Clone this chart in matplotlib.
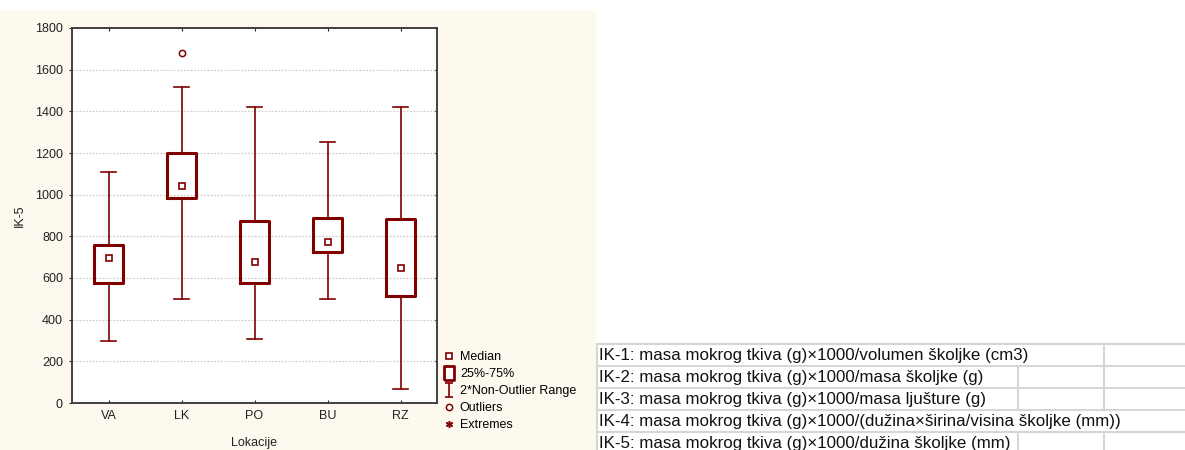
import matplotlib
matplotlib.use('Agg')
import matplotlib.pyplot as plt
from matplotlib.lines import Line2D
from matplotlib.path import Path
from matplotlib.patches import Rectangle

plt.rcParams['font.family'] = ['Liberation Sans', 'DejaVu Sans']

# podaci (ocitano sa slike)
locations = ['VA', 'LK', 'PO', 'BU', 'RZ']
medians = [696, 1042, 678, 774, 648]
q1 = [576, 984, 577, 723, 515]
q3 = [758, 1200, 875, 889, 883]
whis_lo = [298, 499, 306, 500, 67]
whis_hi = [1109, 1517, 1422, 1254, 1422]
outliers = [[], [1680], [], [], []]

table_rows = [
    'IK-1: masa mokrog tkiva (g)\u00d71000/volumen školjke (cm3)',
    'IK-2: masa mokrog tkiva (g)\u00d71000/masa školjke (g)',
    'IK-3: masa mokrog tkiva (g)\u00d71000/masa ljušture (g)',
    'IK-4: masa mokrog tkiva (g)\u00d71000/(dužina\u00d7širina/visina školjke (mm))',
    'IK-5: masa mokrog tkiva (g)\u00d71000/dužina školjke (mm)',
]

red = '#800000'
W, H = 1185, 450
fig = plt.figure(figsize=(W / 100, H / 100), dpi=100)
fig.patch.set_facecolor('white')

# pozadina + tablica u pikselima
bg = fig.add_axes([0, 0, 1, 1], zorder=-5)
bg.set_xlim(0, W)
bg.set_ylim(H, 0)
bg.axis('off')
bg.add_patch(Rectangle((0, 10), 596, 440, facecolor='#FDF9EE', edgecolor='none'))

row_h = 22
top = 344
grid_c = '#d6d6d6'
for i in range(len(table_rows) + 1):
    bg.plot([597, W], [top + i * row_h] * 2, color=grid_c, lw=1.5)
bg.plot([597, 597], [top, H], color=grid_c, lw=1.5)
cell_lines = [[1104], [1018, 1104], [1018, 1104], [], [1018, 1104]]
for i, txt in enumerate(table_rows):
    y0 = top + i * row_h
    bg.text(599, y0 + row_h / 2 + 0.5, txt, fontsize=12.2, va='center', ha='left', color='#111111')
    for xv in cell_lines[i]:
        bg.plot([xv, xv], [y0, y0 + row_h], color=grid_c, lw=1.5)

# grafikon
ax = fig.add_axes([72 / W, 1 - 403 / H, 365 / W, 375 / H])
ax.set_facecolor('white')
stats = []
for i in range(len(locations)):
    stats.append(dict(med=medians[i], q1=q1[i], q3=q3[i], whislo=whis_lo[i],
                      whishi=whis_hi[i], fliers=outliers[i]))
pos = list(range(1, len(locations) + 1))
ax.bxp(stats, positions=pos, widths=0.4, capwidths=0.2, showfliers=True,
       boxprops=dict(color=red, linewidth=2.2),
       whiskerprops=dict(color=red, linewidth=1.2),
       capprops=dict(color=red, linewidth=1.2),
       medianprops=dict(linewidth=0),
       flierprops=dict(marker='o', markersize=4.5, markerfacecolor='white',
                       markeredgecolor=red, markeredgewidth=1.1))
ax.plot(pos, medians, 's', ms=5, mfc='white', mec=red, mew=1.2, ls='none', zorder=5)

ax.set_xlim(0.5, 5.5)
ax.set_ylim(0, 1800)
ax.set_yticks(range(0, 1801, 200))
ax.set_xticks(pos)
ax.set_xticklabels(locations)
ax.yaxis.grid(True, linestyle=(0, (1.5, 1.2)), color='#cfcfcf', linewidth=0.9)
ax.set_axisbelow(True)
for s in ax.spines.values():
    s.set_color('#404040')
    s.set_linewidth(1.4)
ax.tick_params(axis='y', direction='out', length=2.5, width=0.8, pad=4, labelsize=9, colors='#222222')
ax.tick_params(axis='x', direction='in', length=2.5, width=0.8, top=True, pad=5, labelsize=9, colors='#222222')
sec = ax.secondary_yaxis('right')
sec.set_yticks(range(0, 1801, 200))
sec.tick_params(direction='in', length=2.5, width=0.8, labelright=False)
sec.spines['right'].set_visible(False)

ax.set_ylabel('IK-5', fontsize=9, color='#222222')
ax.yaxis.set_label_coords(-0.126, 0.5)
ax.set_xlabel('Lokacije', fontsize=9, color='#222222', labelpad=11)

# legenda
ibeam = Path([(-0.6, 1), (0.6, 1), (0, 1), (0, -1), (-0.6, -1), (0.6, -1)],
             [Path.MOVETO, Path.LINETO, Path.MOVETO, Path.LINETO, Path.MOVETO, Path.LINETO])
rect = Path([(-0.72, -1), (0.72, -1), (0.72, 1), (-0.72, 1), (-0.72, -1)])
handles = [
    Line2D([], [], marker='s', ms=5, mfc='white', mec=red, mew=1.2, ls='none'),
    Line2D([], [], marker=rect, ms=9.5, mfc='white', mec=red, mew=2, ls='none'),
    Line2D([], [], marker=ibeam, ms=10, mfc='none', mec=red, mew=1.2, ls='none'),
    Line2D([], [], marker='o', ms=4.5, mfc='white', mec=red, mew=1.1, ls='none'),
    Line2D([], [], marker=(6, 2, 0), ms=5, mec=red, mew=1.1, ls='none'),
]
labels = ['Median', '25%-75%', '2*Non-Outlier Range', 'Outliers', 'Extremes']
fig.legend(handles, labels, loc='upper left', bbox_to_anchor=(443 / W, 1 - 351 / H),
           frameon=False, fontsize=9, handlelength=1.0, handletextpad=0.35,
           labelspacing=0.4, borderpad=0, borderaxespad=0)

fig.savefig('out.png', dpi=100)
